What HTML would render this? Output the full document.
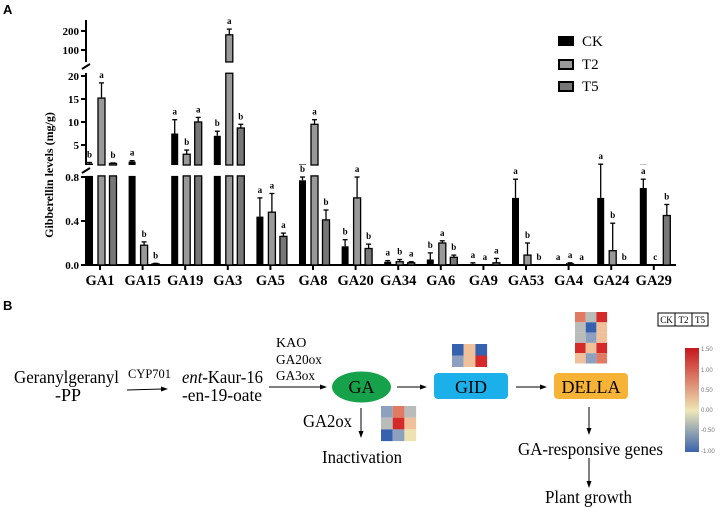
<!DOCTYPE html>
<html><head><meta charset="utf-8"><style>
body{margin:0;background:#fff;width:721px;height:508px;overflow:hidden}
svg{display:block;font-family:"Liberation Serif",serif}
</style></head><body>
<svg id="s" width="721" height="508" viewBox="0 0 721 508">
<text x="3" y="14" font-family="Liberation Sans" font-weight="bold" font-size="13">A</text>
<text x="3" y="310" font-family="Liberation Sans" font-weight="bold" font-size="13">B</text>
<g id="chart"></g>
<g>
<rect x="558" y="36" width="16" height="10" fill="#000"/>
<text x="582" y="46" font-size="15">CK</text>
<rect x="559" y="60" width="14" height="9" fill="#999" stroke="#000" stroke-width="2"/>
<text x="582" y="69" font-size="15">T2</text>
<rect x="559" y="82" width="14" height="9" fill="#777" stroke="#000" stroke-width="2"/>
<text x="582" y="91" font-size="15">T5</text>
</g>
<text transform="translate(53,175) rotate(-90)" text-anchor="middle" font-weight="bold" font-size="12">Gibberellin levels (mg/g)</text>

<g font-size="18">
<text x="14" y="383" textLength="105" lengthAdjust="spacingAndGlyphs">Geranylgeranyl</text>
<text x="68" y="401" text-anchor="middle">-PP</text>
<text x="128" y="378" textLength="43" lengthAdjust="spacingAndGlyphs" font-size="13">CYP701</text>
<line x1="127" y1="390" x2="162" y2="389" stroke="#000"/>
<polygon points="168,389 161,386.5 161,391.5"/>
<text x="182" y="383" textLength="81" lengthAdjust="spacingAndGlyphs"><tspan font-style="italic">ent</tspan>-Kaur-16</text>
<text x="182" y="401" textLength="80" lengthAdjust="spacingAndGlyphs">-en-19-oate</text>
<text x="276" y="347" font-size="14">KAO</text>
<text x="276" y="364" font-size="14" textLength="46" lengthAdjust="spacingAndGlyphs">GA20ox</text>
<text x="276" y="380" font-size="14" textLength="39" lengthAdjust="spacingAndGlyphs">GA3ox</text>
<line x1="269" y1="387" x2="321" y2="387" stroke="#000"/>
<polygon points="327,387 320,384.5 320,389.5"/>
<ellipse cx="361.5" cy="387" rx="29.5" ry="15.5" fill="#16a24a"/>
<text x="361.5" y="393" text-anchor="middle">GA</text>
<line x1="397" y1="387" x2="421" y2="387" stroke="#000"/>
<polygon points="427,387 420,384.5 420,389.5"/>
<rect x="434" y="373" width="74" height="26" rx="4" fill="#1cb0ea"/>
<text x="471" y="393" text-anchor="middle">GID</text>
<line x1="516" y1="387" x2="541" y2="387" stroke="#000"/>
<polygon points="547,387 540,384.5 540,389.5"/>
<rect x="554" y="373" width="74" height="26" rx="4" fill="#f7b335"/>
<text x="591" y="393" text-anchor="middle">DELLA</text>
<line x1="361" y1="408" x2="361" y2="432" stroke="#000"/>
<polygon points="361,438 358.5,431 363.5,431"/>
<text x="303" y="427" textLength="49" lengthAdjust="spacingAndGlyphs">GA2ox</text>
<text x="322" y="463" textLength="80" lengthAdjust="spacingAndGlyphs">Inactivation</text>
<line x1="589" y1="407" x2="589" y2="429" stroke="#000"/>
<polygon points="589,435 586.5,428 591.5,428"/>
<text x="518" y="455" textLength="145" lengthAdjust="spacingAndGlyphs">GA-responsive genes</text>
<line x1="589" y1="458" x2="589" y2="482" stroke="#000"/>
<polygon points="589,488 586.5,481 591.5,481"/>
<text x="545" y="503" textLength="87" lengthAdjust="spacingAndGlyphs">Plant growth</text>
<g font-size="9">
<rect x="658" y="313" width="50" height="13" fill="none" stroke="#000"/>
<line x1="675" y1="313" x2="675" y2="326" stroke="#000"/><line x1="692" y1="313" x2="692" y2="326" stroke="#000"/>
<text x="666.5" y="323" text-anchor="middle">CK</text><text x="683.5" y="323" text-anchor="middle">T2</text><text x="700" y="323" text-anchor="middle">T5</text>
</g>
<defs><linearGradient id="cb" x1="0" y1="1" x2="0" y2="0"><stop offset="0" stop-color="#3b63ad"/><stop offset="0.4" stop-color="#eee6b6"/><stop offset="1" stop-color="#c7161e"/></linearGradient></defs>
<rect x="685" y="348" width="14" height="104" fill="url(#cb)"/>
<g font-size="6" fill="#777" font-family="Liberation Sans">
<text x="701" y="351">1.50</text><text x="701" y="372">1.00</text><text x="701" y="392">0.50</text><text x="701" y="412">0.00</text><text x="701" y="432">-0.50</text><text x="701" y="453">-1.00</text>
</g>
<g id="hm"></g>
</g>
</svg>
<script>
const NS="http://www.w3.org/2000/svg";
const categories=["GA1","GA15","GA19","GA3","GA5","GA8","GA20","GA34","GA6","GA9","GA53","GA4","GA24","GA29"];
const ckValues=[1.0,1.4,7.5,7.0,0.44,0.77,0.17,0.03,0.05,0.01,0.61,0,0.61,0.70];
const ckErrors=[0.2,0.2,3.0,1.0,0.17,0.03,0.06,0.01,0.06,0.01,0.17,0,0.22,0.08];
const t2Values=[15.2,0.18,3.0,180,0.48,9.5,0.61,0.03,0.20,0,0.09,0.01,0.13,0];
const t2Errors=[3.3,0.03,0.9,30,0.17,1.0,0.19,0.02,0.02,0,0.11,0.01,0.25,0];
const t5Values=[1.0,0.01,10,8.7,0.26,0.41,0.15,0.02,0.07,0.02,0,0,0,0.45];
const t5Errors=[0.1,0.005,1.0,0.8,0.03,0.09,0.04,0.01,0.02,0.04,0,0,0,0.1];
const ckLetters=["b","a","a","b","a","b","b","a","b","a","a","a","a","a"];
const t2Letters=["a","b","b","a","a","a","a","b","a","a","b","a","b","c"];
const t5Letters=["b","b","a","b","a","b","b","a","b","a","b","a","b","b"];
const bottomTicks=[0.0,0.4,0.8];
const midTicks=[5,10,15,20];
const topTicks=[100,200];
const chart=document.getElementById('chart');
function el(t,a,p){const e=document.createElementNS(NS,t);for(const k in a)e.setAttribute(k,a[k]);(p||chart).appendChild(e);return e;}
function yb(v){return 265-v*110;}
function ym(v){return 168-v*4.6;}
function yt(v){return 50-(v-100)*0.19;}
const ranges=[[0,0.81,yb],[0.65,20.6,ym],[37,230,yt]];
function xc(i){return 100+i*42.6;}
const offs=[-10.5,1.5,13];
const fills=["#000","#999","#777"];
const vals=[ckValues,t2Values,t5Values],errs=[ckErrors,t2Errors,t5Errors],lets=[ckLetters,t2Letters,t5Letters];
function yAny(v){if(v<=0.81)return yb(v);if(v<=20.6)return ym(v);return yt(v);}
el('line',{x1:86,y1:20,x2:86,y2:62,stroke:'#000','stroke-width':2});
el('line',{x1:86,y1:73,x2:86,y2:165,stroke:'#000','stroke-width':2});
el('line',{x1:86,y1:176,x2:86,y2:265,stroke:'#000','stroke-width':2});
el('line',{x1:82,y1:69,x2:90,y2:64,stroke:'#000','stroke-width':2});
el('line',{x1:82,y1:173,x2:90,y2:168,stroke:'#000','stroke-width':2});
el('line',{x1:86,y1:265,x2:676,y2:265,stroke:'#000','stroke-width':2});
[[bottomTicks,yb,1],[midTicks,ym,0],[topTicks,yt,0]].forEach(([tk,f,d])=>tk.forEach(v=>{
 const y=f(v);
 const l=el('line',{x1:81,y1:y,x2:86,y2:y,stroke:'#000','stroke-width':2});
 
 
 const t=el('text',{x:79,y:y+4,'text-anchor':'end','font-weight':'bold','font-size':11});
 t.textContent=d?v.toFixed(1):v;
 
 
}));
categories.forEach((c,i)=>{
 const x=xc(i);
 const tk=el('line',{x1:x,y1:265,x2:x,y2:270,stroke:'#000','stroke-width':2});
 
 
 const t=el('text',{x:x,y:285,'text-anchor':'middle','font-weight':'bold','font-size':14.5});
 t.textContent=c;
 
 
 for(let s=0;s<3;s++){
  const v=vals[s][i],e=errs[s][i],bx=x+offs[s];
  ranges.forEach(([lo,hi,f])=>{
   if(v<=lo&&lo>0)return;
   const top=f(Math.min(v,hi)),bot=f(lo);
   if(bot-top<=0.2)return;
   const r=el('rect',{x:bx-3.5,y:top,width:7,height:bot-top,fill:fills[s],stroke:s?'#000':'none','stroke-width':s?1.3:0});
   
   
  });
  const ytop=yAny(v+e),yv=yAny(v);
  if(e>0){
   const l=el('line',{x1:bx,y1:yv,x2:bx,y2:ytop,stroke:'#000','stroke-width':1.3});
   
   
   const cap=el('line',{x1:bx-2.5,y1:ytop,x2:bx+2.5,y2:ytop,stroke:'#000','stroke-width':1.3});
   
   
  }
  const lt=el('text',{x:bx,y:Math.min(ytop,yv)-5,'text-anchor':'middle','font-weight':'bold','font-size':9});
  lt.textContent=lets[s][i];
  
  
 }
});
const C={r:"#d42a2a",s:"#e07a63",o:"#efc09a",y:"#eee2b0",g:"#b9bcb8",gb:"#8ea0bf",b:"#3561ae"};
const gaHeat=[["gb","s","g"],["g","r","o"],["b","gb","y"]];
const gidHeat=[["b","o","b"],["gb","o","r"]];
const dellaHeat=[["s","g","r"],["g","b","o"],["g","gb","o"],["r","o","r"],["o","gb","s"]];
const hm=document.getElementById('hm');
function drawHeat(d,x0,y0,w,h){d.forEach((row,ri)=>row.forEach((k,ci)=>{
 const r=el('rect',{x:x0+ci*w,y:y0+ri*h,width:w,height:h,fill:C[k]},hm);
 
 
}));}
drawHeat(gaHeat,381,406,11.7,11.7);
drawHeat(gidHeat,452,344,11.7,11.5);
drawHeat(dellaHeat,575,312,10.7,10.3);
</script>
</body></html>
